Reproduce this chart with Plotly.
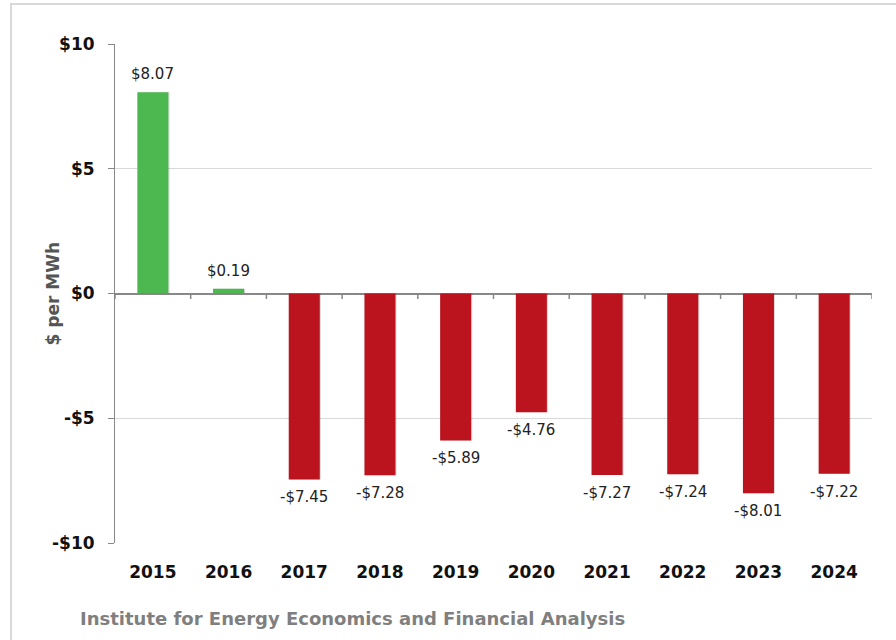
import plotly.graph_objects as go

years = ["2015", "2016", "2017", "2018", "2019", "2020", "2021", "2022", "2023", "2024"]
margin_values = [8.07, 0.19, -7.45, -7.28, -5.89, -4.76, -7.27, -7.24, -8.01, -7.22]
y_tick_vals = [-10, -5, 0, 5, 10]
y_tick_text = ["-$10", "-$5", "$0", "$5", "$10"]

GREEN = "#4CB84F"
RED = "#BB141E"
colors = [GREEN if v >= 0 else RED for v in margin_values]
labels = [("$%.2f" % v) if v >= 0 else ("-$%.2f" % abs(v)) for v in margin_values]

W, H = 896, 640
L, R, T, B = 115, 24, 44, 97
pw, ph = W - L - R, H - T - B

fig = go.Figure()
# soft shadow
fig.add_trace(go.Bar(x=years, y=margin_values, marker=dict(color="rgba(0,0,0,0.15)", line=dict(width=0)),
                     width=0.41, offset=-0.19, hoverinfo="skip", showlegend=False))
fig.add_trace(go.Bar(x=years, y=margin_values, marker=dict(color=colors, line=dict(width=0)),
                     width=0.41, offset=-0.205, showlegend=False))

for i, (v, lab) in enumerate(zip(margin_values, labels)):
    fig.add_annotation(x=i, y=v, text=lab, showarrow=False, xref="x", yref="y",
                       yshift=18 if v >= 0 else -18,
                       font=dict(family="DejaVu Sans", size=15, color="#222222"))

# tick marks on the zero line at category boundaries
shapes = []
for i in range(len(years) + 1):
    shapes.append(dict(type="line", xref="x", yref="y", x0=i - 0.5, x1=i - 0.5, y0=0, y1=-0.22,
                       line=dict(color="#888888", width=1.5)))
# outer frame
shapes.append(dict(type="rect", xref="paper", yref="paper",
                   x0=(11 - L) / pw, x1=1 + (R + 10) / pw,
                   y0=-(B + 10) / ph, y1=1 + (T - 4) / ph,
                   line=dict(color="#D9D9D9", width=2), fillcolor="rgba(0,0,0,0)", layer="below"))

fig.add_annotation(xref="paper", yref="paper", x=(40 - L) / pw, y=0.5, text="$ per MWh",
                   textangle=-90, showarrow=False,
                   font=dict(family="DejaVu Sans", size=17, color="#555555", weight="bold"))
fig.add_annotation(xref="paper", yref="paper", x=(78 - L) / pw, y=-(618 - (T + ph)) / ph,
                   xanchor="left", yanchor="middle", text="Institute for Energy Economics and Financial Analysis",
                   showarrow=False, font=dict(family="DejaVu Sans", size=18, color="#7F7F7F", weight="bold"))

fig.update_layout(
    width=W, height=H, margin=dict(l=L, r=R, t=T, b=B),
    paper_bgcolor="white", plot_bgcolor="white",
    shapes=shapes, barmode="overlay",
    xaxis=dict(type="category", showgrid=False, showline=False, ticks="", zeroline=False,
               tickfont=dict(family="DejaVu Sans", size=17, color="#111111", weight="bold"),
               ticklabelstandoff=17, range=[-0.5, 9.5]),
    yaxis=dict(range=[-10, 10], tickvals=y_tick_vals, ticktext=y_tick_text,
               showgrid=True, gridcolor="#D9D9D9", gridwidth=1,
               showline=True, linecolor="#888888", linewidth=1,
               ticks="outside", ticklen=6, tickcolor="#888888", ticklabelstandoff=10,
               zeroline=True, zerolinecolor="#888888", zerolinewidth=2,
               tickfont=dict(family="DejaVu Sans", size=17, color="#111111", weight="bold")),
)

fig.write_html("out.html", config={"displayModeBar": False},
               post_script="document.body.style.margin='0';document.body.style.overflow='hidden';")
